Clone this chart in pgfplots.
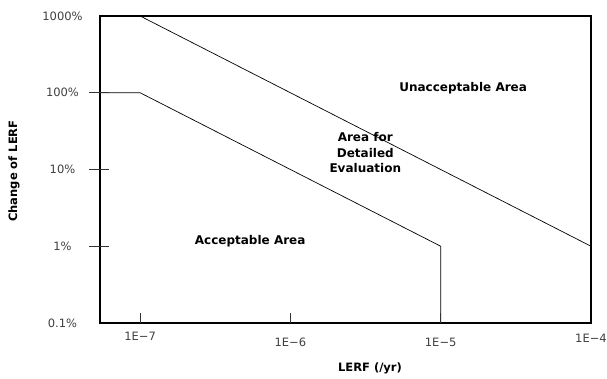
\documentclass[border=0pt]{standalone}
\usepackage{pgfplots}
\pgfplotsset{compat=1.18}
\usepackage{fontspec}
\setmainfont{DejaVu Sans}
\begin{document}
\begin{tikzpicture}
\useasboundingbox (-100pt,-56pt) rectangle (507pt,323pt);
\begin{axis}[
  scale only axis,
  width=491pt, height=307pt,
  xmode=log, ymode=log,
  xmin=5.41e-8, xmax=1e-4,
  ymin=0.1, ymax=1000,
  xtick={1e-7,1e-6,1e-5,1e-4},
  xticklabels={\raisebox{6pt}{1E\textminus7},1E\textminus6,1E\textminus5,\raisebox{4pt}{1E\textminus4}},
  ytick={0.1,1,10,100,1000},
  yticklabels={0.1\%,1\%,10\%,100\%,1000\%},
  minor tick num=0,
  major tick length=0pt,
  minor tick length=0pt,
  axis line style={line width=1.2pt},
  tick label style={font=\fontsize{11.5}{13}\selectfont, text=black!75},
  yticklabel style={anchor=center, xshift=-37.5pt},
  xticklabel style={anchor=base, yshift=-24pt},
  xlabel={LERF (/yr)},
  ylabel={Change of LERF},
  label style={font=\bfseries\fontsize{11.5}{13}\selectfont},
  xlabel style={at={(axis description cs:0.55,-0.1466)}, anchor=center},
  ylabel style={at={(axis description cs:-0.1752,0.495)}, anchor=center, rotate=0},
  clip=false,
]
\addplot[black, line width=0.7pt] coordinates {(5.41e-8,1000) (1e-7,1000) (1e-4,1)};
\addplot[black, line width=0.7pt] coordinates {(5.41e-8,100) (1e-7,100) (1e-5,1) (1e-5,0.1)};
% tick marks
\pgfplotsinvokeforeach{1,10,100}{
  \draw[black!80, line width=0.8pt] ([xshift=-11pt]axis cs:5.41e-8,#1) -- ([xshift=9pt]axis cs:5.41e-8,#1);
}
\pgfplotsinvokeforeach{1e-7,1e-6,1e-5}{
  \draw[black!80, line width=0.8pt] (axis cs:#1,0.1) -- ([yshift=10pt]axis cs:#1,0.1);
}
\node[font=\bfseries\fontsize{12}{14}\selectfont] at (axis cs:1.41e-5,116) {Unacceptable Area};
\node[font=\bfseries\fontsize{12}{15.5}\selectfont, align=center] at (axis cs:3.15e-6,16.4) {Area for\\Detailed\\Evaluation};
\node[font=\bfseries\fontsize{12}{14}\selectfont] at (axis cs:5.4e-7,1.18) {Acceptable Area};
\end{axis}
\end{tikzpicture}
\end{document}
